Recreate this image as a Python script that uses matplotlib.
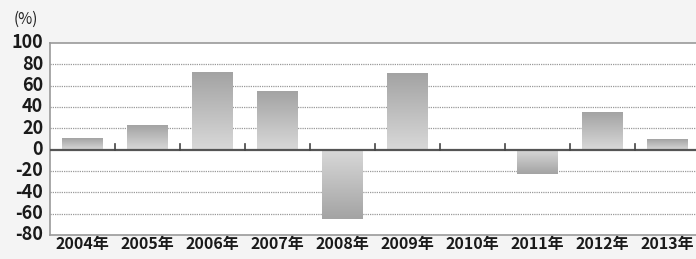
import matplotlib
matplotlib.use("Agg")
import matplotlib.pyplot as plt
import numpy as np
from matplotlib.colors import LinearSegmentedColormap

years = ["2004年", "2005年", "2006年", "2007年", "2008年", "2009年", "2010年", "2011年", "2012年", "2013年"]
values = [11, 23, 73, 55, -65, 72, 0.5, -23, 35, 10]
yticks = [100, 80, 60, 40, 20, 0, -20, -40, -60, -80]

plt.rcParams['font.family'] = ['Noto Sans CJK JP', 'DejaVu Sans']

fig = plt.figure(figsize=(6.96, 2.59), dpi=100)
fig.patch.set_facecolor('#f4f4f4')
ax = fig.add_axes([50/696, 1-235/259, 1-50/696, (235-43)/259])
ax.set_facecolor('white')

x = np.arange(len(years))
bars = ax.bar(x, values, width=0.63, color='none', edgecolor='none', zorder=3)

cmap = LinearSegmentedColormap.from_list('g', ['#d9d9d9', '#a3a3a3'])
grad = np.linspace(0, 1, 256).reshape(-1, 1)
for b, v in zip(bars, values):
    x0 = b.get_x(); w = b.get_width()
    if abs(v) < 1:
        b.set_facecolor('#b0b0b0')
        continue
    img = grad if v > 0 else grad[::-1]
    extent = [x0, x0 + w, 0, v] if v > 0 else [x0, x0 + w, v, 0]
    im = ax.imshow(img, cmap=cmap, aspect='auto', extent=extent, origin='lower',
                   zorder=3, interpolation='bilinear')
    im.set_clip_path(b)

ax.set_xlim(-0.5, 9.44)
ax.set_ylim(-80, 100)
ax.set_yticks(yticks)
ax.set_yticklabels([str(t) for t in yticks], fontsize=13, fontweight='bold', color='#1a1a1a')
ax.tick_params(axis='y', length=0, pad=5)
ax.set_xticks(x)
ax.set_xticklabels(years, fontsize=11.5, fontweight='bold', color='#1a1a1a')
ax.tick_params(axis='x', length=0, pad=1)
for lab in ax.get_yticklabels():
    lab.set_va('center')

for t in [80, 60, 40, 20, -20, -40, -60]:
    ax.axhline(t, color='#9a9a9a', lw=0.9, ls=(0, (1, 0.8)), zorder=1)
ax.axhline(0, color='#555555', lw=1.6, zorder=4)
for b in np.arange(len(years) - 1) + 0.5:
    ax.plot([b, b], [0, 5], color='#444444', lw=1.2, zorder=4)

ax.spines['right'].set_visible(False)
for s in ['top', 'bottom', 'left']:
    ax.spines[s].set_color('#999999')
    ax.spines[s].set_linewidth(1.2)

fig.text(14/696, 1-19/259, '(%)', fontsize=11, color='#222222', va='center', ha='left')

fig.savefig('out.png', dpi=100, facecolor=fig.get_facecolor())
